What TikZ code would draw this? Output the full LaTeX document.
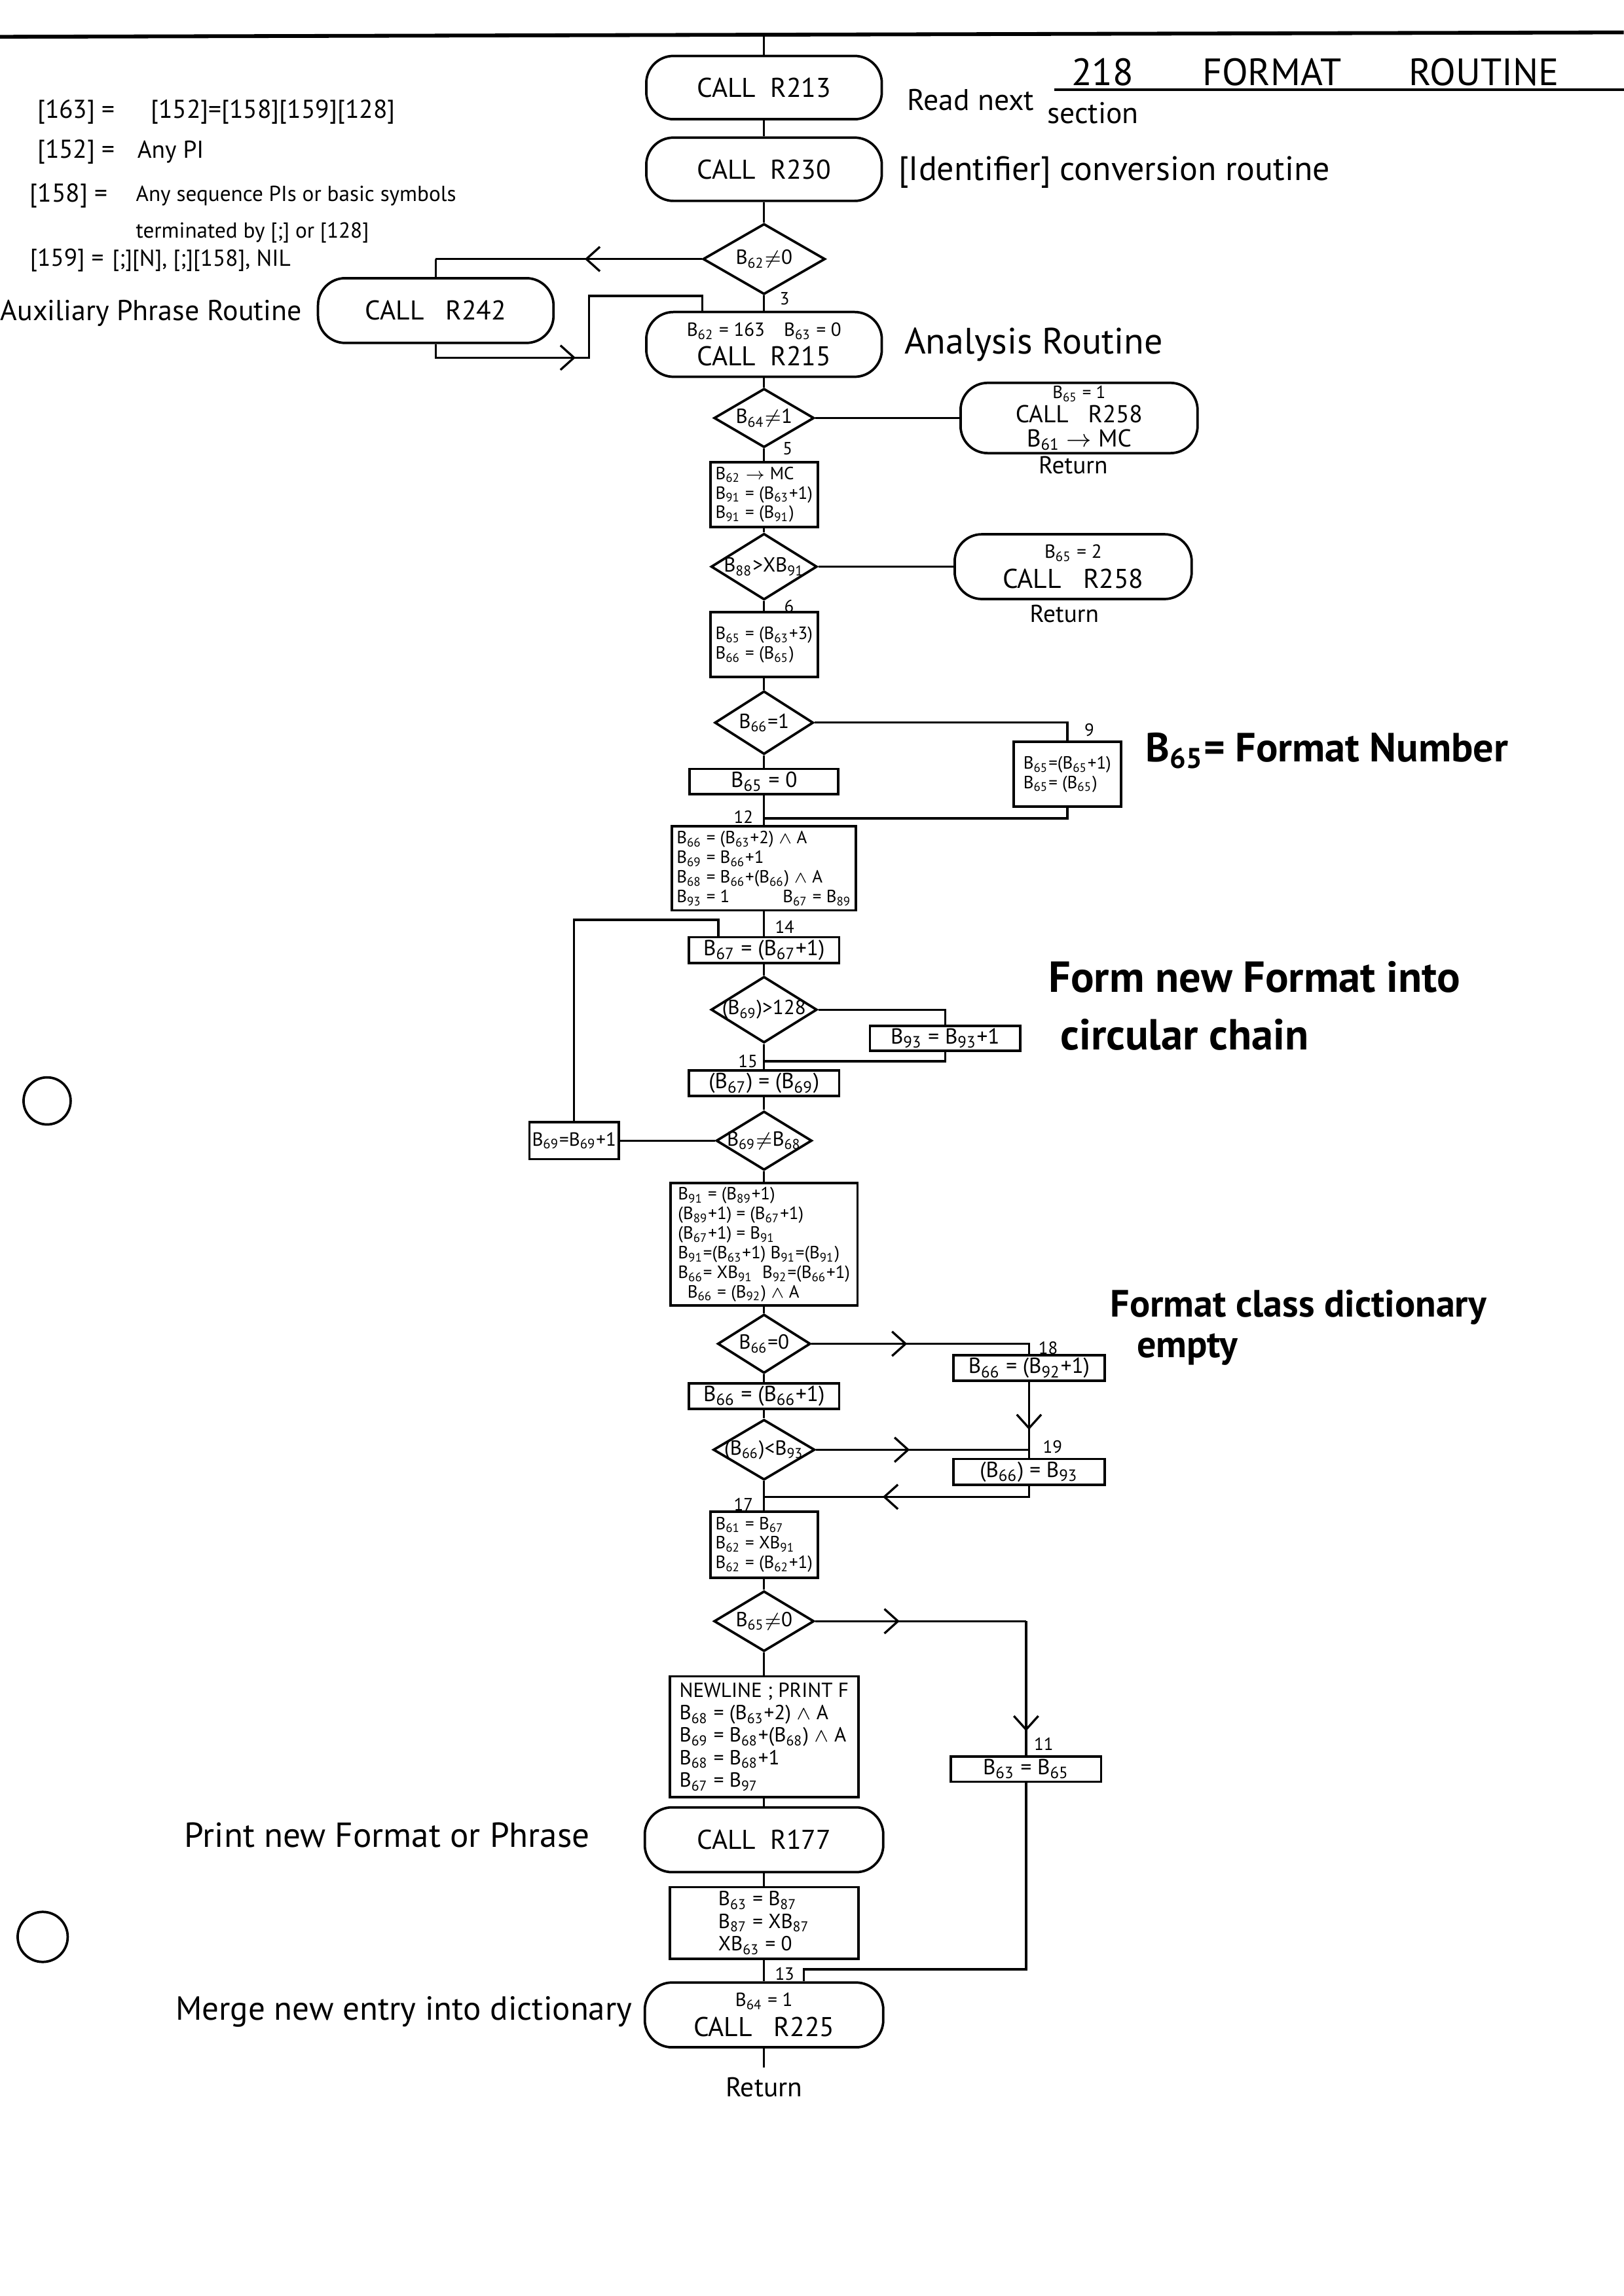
\documentclass[tikz,border=0pt]{standalone}
\usepackage{fontspec}
\setmainfont{PT Sans}
\usetikzlibrary{shapes.geometric}
\usetikzlibrary{arrows.meta}
\usetikzlibrary{decorations.markings}
\usetikzlibrary{calc}
\newcommand{\dpx}{0.019039cm}
\newcommand{\breg}[1]{B\textsubscript{#1}}
\tikzstyle{callbox}=[draw, rectangle, rounded corners=10pt, line width=0.9pt, inner sep=1pt, align=center, font=\fontsize{10}{11}\selectfont]
\tikzstyle{opbox}=[draw, rectangle, line width=0.9pt, inner sep=1.5pt, align=left, font=\fontsize{6.5}{7.2}\selectfont]
\tikzstyle{linebox}=[draw, rectangle, line width=0.9pt, inner sep=1pt, align=center, font=\fontsize{8}{9}\selectfont]
\tikzstyle{test}=[draw, diamond, line width=0.9pt, inner sep=0pt, font=\fontsize{7.5}{8}\selectfont, execute at begin node={\hbox to 0pt\bgroup\hss}, execute at end node={\hss\egroup}]
\tikzstyle{tag}=[font=\fontsize{6.5}{7}\selectfont, inner sep=0pt]
\tikzstyle{remark}=[anchor=west, inner sep=0pt]
\tikzstyle{flow}=[line width=0.8pt]
\tikzset{wh/.style 2 args={minimum width=#1*\dpx, minimum height=#2*\dpx},
  chev/.style={postaction={decorate}, decoration={markings, mark=at position #1 with {\arrow{Straight Barb[length=5pt,width=9pt,line width=0.8pt]}}}}}

\begin{document}
\begin{tikzpicture}[x=0.019039cm, y=-0.019038cm]
\useasboundingbox (0,0) rectangle (1103,1560);

%Heading
\draw[line width=1.4pt] (0,25) -- (1103,22);
\draw[line width=0.9pt] (716,61) -- (1103,61);
\foreach \pos/\name/\txt in {{(749,49)/hnum/218}, {(864,49)/hfmt/FORMAT}, {(1008,49)/hrtn/ROUTINE}}
    \node[font=\fontsize{14}{15}\selectfont] (\name) at \pos {\txt};
\coordinate (head) at (519,24);

%Definitions
\foreach \pos/\name/\sz/\txt in {{(25,76)/df1/9.5/{[163] =}}, {(102,76)/dr1/9.5/{[152]=[158][159][128]}},
    {(25,103)/df2/9.5/{[152] =}}, {(93,103)/dr2/9/{Any PI}},
    {(20,133)/df3/9.5/{[158] =}}, {(92,133)/dr3/8/{Any sequence PIs or basic symbols}},
    {(92,158)/dr4/8/{terminated by [;] or [128]}},
    {(20,177)/df4/9/{[159] =}}, {(76,177)/dr5/8.5/{[;][N], [;][158], NIL}}}
    \node[remark, font=\fontsize{\sz}{\sz}\selectfont] (\name) at \pos {\txt};

%Remarks
\foreach \pos/\name/\sz/\txt in {{(616,68)/rm1/11/{Read next}}, {(711,77)/rm2/11/{section}},
    {(610,117)/rm3/12.5/{[Identifier] conversion routine}}, {(614,234)/rm4/13.5/{Analysis Routine}},
    {(0,213)/rm5/10.6/{Auxiliary Phrase Routine}},
    {(778,510)/rm6/15/{\bfseries \breg{65}= Format Number}},
    {(712,664)/rm7/16/{\bfseries Form new Format into}}, {(720,703)/rm8/16/{\bfseries circular chain}},
    {(754,888)/rm9/14/{\bfseries Format class dictionary}}, {(772,917)/rm10/14/{\bfseries empty}},
    {(125,1247)/rm11/12.8/{Print new Format or Phrase}},
    {(119,1367)/rm12/12.3/{Merge new entry into dictionary}}}
    \node[remark, font=\fontsize{\sz}{\sz}\selectfont] (\name) at \pos {\txt};

%Routine calls
\foreach \pos/\name/\bw/\bh/\txt in {{(519,59.5)/r213/160/43/{CALL\ \ R213}},
    {(519,115)/r230/160/43/{CALL\ \ R230}},
    {(296,211)/r242/160/44/{CALL\ \ \ R242}},
    {(519,234)/r215/160/44/{{\fontsize{7}{8}\selectfont \breg{62} = 163\quad \breg{63} = 0}\\CALL\ \ R215}},
    {(733,284)/r258a/161/43/{{\fontsize{6.5}{7}\selectfont \breg{65} = 1}\\[-2pt]{\fontsize{9}{9.5}\selectfont CALL\ \ \ R258}\\[-2pt]{\fontsize{9}{9.5}\selectfont \breg{61} $\rightarrow$ MC}}},
    {(729,385)/r258b/161/44/{{\fontsize{7}{8}\selectfont \breg{65} = 2}\\CALL\ \ \ R258}},
    {(519,1250)/r177/162/44/{CALL\ \ R177}},
    {(519,1369)/r225/162/44/{{\fontsize{7}{8}\selectfont \breg{64} = 1}\\CALL\ \ \ R225}}}
    \node[callbox, wh={\bw}{\bh}] (\name) at \pos {\txt};
\node[font=\fontsize{9}{10}\selectfont] (ret1) at (729,316) {Return};
\node[font=\fontsize{9}{10}\selectfont] (ret2) at (723,417) {Return};
\node[font=\fontsize{10}{11}\selectfont] (ret) at (519,1418) {Return};

%Operations
\foreach \pos/\name/\bw/\bh/\txt in {{(519,336)/b1/73/44/{\breg{62} $\rightarrow$ MC\\\breg{91} = (\breg{63}+1)\\\breg{91} = (\breg{91})}},
    {(519,438)/b2/73/44/{\breg{65} = (\breg{63}+3)\\\breg{66} = (\breg{65})}},
    {(725,526)/b9/73/44/{\breg{65}=(\breg{65}+1)\\\breg{65}= (\breg{65})}},
    {(519,590)/big1/125/57/{\breg{66} = (\breg{63}+2) $\wedge$ A\\\breg{69} = \breg{66}+1\\\breg{68} = \breg{66}+(\breg{66}) $\wedge$ A\\\breg{93} = 1\qquad\quad \breg{67} = \breg{89}}},
    {(519,845.5)/big2/127/79/{\breg{91} = (\breg{89}+1)\\(\breg{89}+1) = (\breg{67}+1)\\(\breg{67}+1) = \breg{91}\\\breg{91}=(\breg{63}+1)\ \breg{91}=(\breg{91})\\\breg{66}= X\breg{91}\ \ \breg{92}=(\breg{66}+1)\\\ \ \breg{66} = (\breg{92}) $\wedge$ A}},
    {(519,1049.5)/b61/73/45/{\breg{61} = \breg{67}\\\breg{62} = X\breg{91}\\\breg{62} = (\breg{62}+1)}}}
    \node[opbox, wh={\bw}{\bh}] (\name) at \pos {\txt};
\foreach \pos/\name/\bw/\bh/\txt in {{(519,1180)/bnl/128/82/{NEWLINE ; PRINT F\\\breg{68} = (\breg{63}+2) $\wedge$ A\\\breg{69} = \breg{68}+(\breg{68}) $\wedge$ A\\\breg{68} = \breg{68}+1\\\breg{67} = \breg{97}}},
    {(519,1306.5)/b63/128/47/{\breg{63} = \breg{87}\\\breg{87} = X\breg{87}\\X\breg{63} = 0}}}
    \node[opbox, font=\fontsize{7.5}{8.3}\selectfont, wh={\bw}{\bh}] (\name) at \pos {\txt};
\foreach \pos/\name/\bw/\bh/\txt in {{(519,531)/b650/101/16/{\breg{65} = 0}},
    {(519,645.5)/b67/102/15/{\breg{67} = (\breg{67}+1)}},
    {(642,705.5)/b93/102/15/{\breg{93} = \breg{93}+1}},
    {(519,736)/b6769/102/16/{(\breg{67}) = (\breg{69})}},
    {(699,929.5)/b18/103/17/{\breg{66} = (\breg{92}+1)}},
    {(519,948.5)/b66p/102/15/{\breg{66} = (\breg{66}+1)}},
    {(699,1000)/b19/103/16/{(\breg{66}) = \breg{93}}},
    {(697,1202)/b11/102/16/{\breg{63} = \breg{65}}}}
    \node[linebox, wh={\bw}{\bh}] (\name) at \pos {\txt};
\node[linebox, font=\fontsize{7}{8}\selectfont, wh={60}{25}] (b69) at (390,775) {\breg{69}=\breg{69}+1};

%Tests
\foreach \pos/\name/\bw/\bh/\txt in {{(519,176)/d62/83/48/{\breg{62}$\neq$0}},
    {(519,284)/d64/68/40/{\breg{64}$\neq$1}},
    {(519,385)/d88/72/45/{\breg{88}>X\breg{91}}},
    {(519,491)/d66a/67/43/{\breg{66}=1}},
    {(519,686)/d69/72/45/{(\breg{69})>128}},
    {(519,775)/d698/65/40/{\breg{69}$\neq$\breg{68}}},
    {(519,913)/d660/63/40/{\breg{66}=0}},
    {(519,985)/dlt/69/41/{(\breg{66})<\breg{93}}},
    {(519,1101.5)/d65/68/41/{\breg{65}$\neq$0}}}
    \node[test, wh={\bw}{\bh}] (\name) at \pos {\txt};

%Labels
\foreach \pos/\name/\txt in {{(533,203)/t3/3}, {(535,305)/t5/5}, {(536,412)/t6/6}, {(740,496)/t9/9},
    {(505,555)/t12/12}, {(533,630)/t14/14}, {(508,721)/t15/15}, {(712,916)/t18/18},
    {(715,983)/t19/19}, {(505,1022)/t17/17}, {(709,1185)/t11/11}, {(533,1341)/t13/13}}
    \node[tag] (\name) at \pos {\txt};

%Junctions
\coordinate (k3) at (296,176);
\coordinate (k5) at (400,243);
\coordinate (k6) at (477,201);
\coordinate (j12) at (519,556);
\coordinate (k14) at (488,625);
\coordinate (j15) at (519,721);
\coordinate (j19) at (699,985);
\coordinate (j17) at (519,1017);
\coordinate (k11) at (697,1101.5);
\coordinate (k13) at (546,1338);

%Main flow
\foreach \source/\dest in {head/r213, r213/r230, r230/d62, d62/r215, r215/d64, d64/b1, b1/d88, d88/b2,
    b2/d66a, d66a/b650, b650/big1, big1/b67, b67/d69, d69/b6769, b6769/d698, d698/big2, big2/d660,
    d660/b66p, b66p/dlt, dlt/b61, b61/d65, d65/bnl, bnl/r177, r177/b63, b63/r225, r225/ret}
    \draw[flow] (\source) -- (\dest);

%Branches
\foreach \source/\dest in {d64/r258a, d88/r258b, d698/b69, k3/r242}
    \draw[flow] (\source) -- (\dest);
\draw[flow, chev=0.44] (d62) -- (k3);
\draw[flow, chev=0.43] (r242.south) |- (k5) |- (k6) -- (k6 |- r215.north);
\draw[flow] (d66a.east) -| (b9.north);
\draw[flow] (b9.south) |- (j12);
\draw[flow] (b69.north) |- (k14) -- (k14 |- b67.north);
\draw[flow] (d69.east) -| (b93.north);
\draw[flow] (b93.south) |- (j15);
\draw[flow, chev=0.42] (d660.east) -| (b18.north);
\draw[flow, chev=0.63] (b18) -- (b19);
\draw[flow, chev=0.44] (dlt) -- (j19);
\draw[flow, chev=0.57] (b19.south) |- (j17);
\draw[flow, chev=0.4] (d65) -- (k11);
\draw[flow, chev=0.82] (k11) -- (b11);
\draw[flow] (b11.south) |- (k13) -- (k13 |- r225.north);

%Punch holes
\draw[line width=0.9pt] (32,748) circle[radius=16];
\draw[line width=0.9pt] (29,1316) circle[radius=17];

\end{tikzpicture}
\end{document}
